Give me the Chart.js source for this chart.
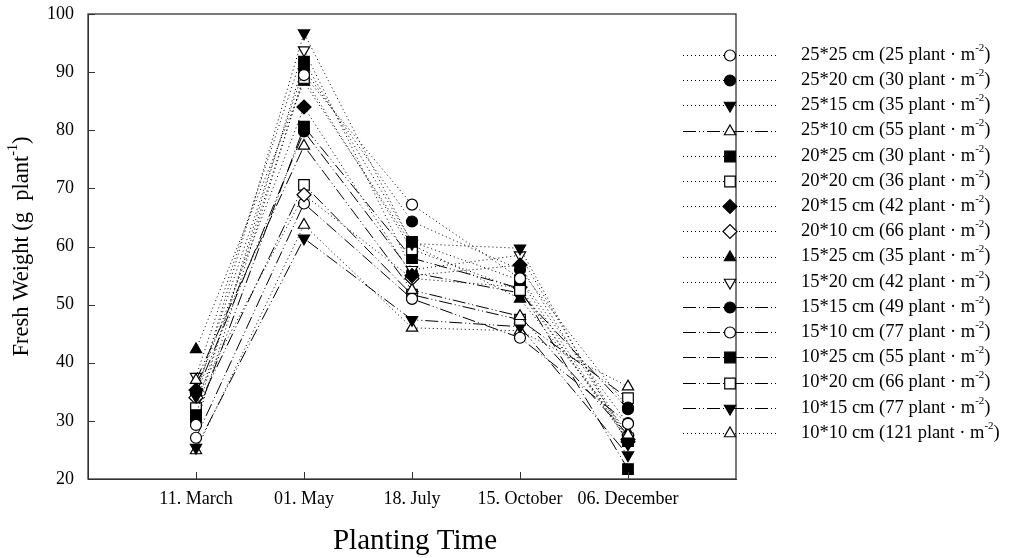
<!DOCTYPE html>
<html>
<head>
<meta charset="utf-8">
<script src="https://cdn.jsdelivr.net/npm/chart.js@4.4.1/dist/chart.umd.min.js"></script>
<style>
html,body{margin:0;padding:0;background:#fff;}
#wrap{width:1009px;height:558px;position:relative;}
</style>
</head>
<body>
<div id="wrap"><canvas id="c"></canvas></div>
<script>
// ---- data ----
const categories = ["11. March", "01. May", "18. July", "15. October", "06. December"];
const yTicks = [20, 30, 40, 50, 60, 70, 80, 90, 100];
const seriesNames = [
  "25*25 cm (25 plant \u00B7 m", "25*20 cm (30 plant \u00B7 m", "25*15 cm (35 plant \u00B7 m",
  "25*10 cm (55 plant \u00B7 m", "20*25 cm (30 plant \u00B7 m", "20*20 cm (36 plant \u00B7 m",
  "20*15 cm (42 plant \u00B7 m", "20*10 cm (66 plant \u00B7 m", "15*25 cm (35 plant \u00B7 m",
  "15*20 cm (42 plant \u00B7 m", "15*15 cm (49 plant \u00B7 m", "15*10 cm (77 plant \u00B7 m",
  "10*25 cm (55 plant \u00B7 m", "10*20 cm (66 plant \u00B7 m", "10*15 cm (77 plant \u00B7 m",
  "10*10 cm (121 plant \u00B7 m"
];
const s25x25 = [29.3, 89.5, 67.2, 54.5, 29.5];
const s25x20 = [35.0, 90.5, 64.3, 56.0, 32.3];
const s25x15 = [34.2, 96.7, 60.5, 59.7, 26.0];
const s25x10 = [37.0, 77.3, 52.5, 48.0, 27.6];
const s20x25 = [31.0, 91.8, 60.8, 54.2, 26.5];
const s20x20 = [32.2, 89.0, 59.5, 52.5, 27.0];
const s20x15 = [35.3, 84.0, 55.0, 56.8, 26.8];
const s20x10 = [34.0, 68.9, 54.5, 53.0, 26.4];
const s15x25 = [42.3, 88.3, 60.3, 51.0, 28.0];
const s15x20 = [37.6, 93.8, 56.0, 58.5, 27.0];
const s15x15 = [34.6, 79.8, 55.5, 52.0, 32.0];
const s15x10 = [27.1, 67.4, 51.0, 44.3, 29.6];
const s10x25 = [30.5, 80.6, 58.0, 52.8, 21.7];
const s10x20 = [31.8, 70.6, 51.7, 47.4, 33.9];
const s10x15 = [25.4, 61.4, 47.4, 46.2, 24.1];
const s10x10 = [24.9, 63.7, 46.0, 45.5, 35.9];
const allSeries = [s25x25, s25x20, s25x15, s25x10, s20x25, s20x20, s20x15, s20x10,
                   s15x25, s15x20, s15x15, s15x10, s10x25, s10x20, s10x15, s10x10];

// ---- styles ----
const DOT = [1, 3];
const DDD = [13, 3, 1, 3, 1, 3];
// [shape, filled, rotation, dash]
const styles = [
  ['circle', false, 0, DOT], ['circle', true, 0, DOT], ['triangle', true, 180, DOT], ['triangle', false, 0, DDD],
  ['rect', true, 0, DOT], ['rect', false, 0, DOT], ['rectRot', true, 0, DOT], ['rectRot', false, 0, DOT],
  ['triangle', true, 0, DOT], ['triangle', false, 180, DOT], ['circle', true, 0, DDD], ['circle', false, 0, DDD],
  ['rect', true, 0, DDD], ['rect', false, 0, DDD], ['triangle', true, 180, DDD], ['triangle', false, 0, DOT]
];
const radiusFor = {circle: 5.5, rect: 7.5, rectRot: 7, triangle: 6.5};

const labels = [''].concat(categories).concat(['']);
const datasets = allSeries.map((vals, i) => {
  const st = styles[i];
  return {
    label: seriesNames[i],
    data: [null].concat(vals).concat([null]),
    borderColor: '#000',
    borderWidth: 1,
    borderDash: st[3],
    backgroundColor: st[1] ? '#000' : '#fff',
    pointBackgroundColor: st[1] ? '#000' : '#fff',
    pointBorderColor: '#000',
    pointBorderWidth: 1.2,
    pointStyle: st[0],
    pointRotation: st[2],
    pointRadius: radiusFor[st[0]],
    pointHoverRadius: radiusFor[st[0]],
    fill: false,
    tension: 0,
    spanGaps: false
  };
});

const SERIF = "'Liberation Serif', 'Times New Roman', serif";

function drawSupText(ctx, x, y, main, sup, tail, size, align) {
  ctx.save();
  ctx.font = size + 'px ' + SERIF;
  const w1 = ctx.measureText(main).width;
  ctx.font = Math.round(size * 0.62) + 'px ' + SERIF;
  const w2 = ctx.measureText(sup).width;
  ctx.font = size + 'px ' + SERIF;
  const w3 = ctx.measureText(tail).width;
  const total = w1 + w2 + w3;
  let sx = align === 'center' ? x - total / 2 : x;
  ctx.textAlign = 'left';
  ctx.textBaseline = 'middle';
  ctx.fillStyle = '#000';
  ctx.fillText(main, sx, y);
  ctx.font = Math.round(size * 0.62) + 'px ' + SERIF;
  ctx.fillText(sup, sx + w1, y - size * 0.38);
  ctx.font = size + 'px ' + SERIF;
  ctx.fillText(tail, sx + w1 + w2, y);
  ctx.restore();
}

const decor = {
  id: 'decor',
  afterDraw(chart) {
    const ctx = chart.ctx;
    const a = chart.chartArea;
    const xs = chart.scales.x, ys = chart.scales.y;
    ctx.save();
    // frame
    ctx.strokeStyle = '#333';
    ctx.lineWidth = 1.3;
    ctx.setLineDash([]);
    ctx.strokeRect(a.left, a.top, a.right - a.left, a.bottom - a.top);
    // inward ticks
    ctx.lineWidth = 1;
    ctx.beginPath();
    yTicks.forEach(v => {
      const py = Math.round(ys.getPixelForValue(v)) + 0.5;
      ctx.moveTo(a.left, py); ctx.lineTo(a.left + 7, py);
    });
    categories.forEach((c, i) => {
      const px = Math.round(xs.getPixelForValue(i + 1)) + 0.5;
      ctx.moveTo(px, a.bottom); ctx.lineTo(px, a.bottom - 7);
    });
    ctx.stroke();
    ctx.restore();

    // x title
    ctx.save();
    ctx.font = '29px ' + SERIF;
    ctx.fillStyle = '#000';
    ctx.textAlign = 'center';
    ctx.textBaseline = 'middle';
    ctx.fillText('Planting Time', (a.left + a.right) / 2 + 3, 541);
    ctx.restore();

    // y title
    ctx.save();
    ctx.translate(22, (a.top + a.bottom) / 2);
    ctx.rotate(-Math.PI / 2);
    drawSupText(ctx, 0, 0, 'Fresh Weight (g  plant', '-1', ')', 22.5, 'center');
    ctx.restore();

    // legend
    const x0 = 683, x1 = 778, mx = 730, tx = 801;
    chart.data.datasets.forEach((ds, i) => {
      const y = 55 + i * 25.2;
      ctx.save();
      ctx.strokeStyle = '#000';
      ctx.lineWidth = 1;
      ctx.setLineDash(ds.borderDash);
      ctx.beginPath();
      ctx.moveTo(x0, Math.round(y) + 0.5);
      ctx.lineTo(x1, Math.round(y) + 0.5);
      ctx.stroke();
      ctx.setLineDash([]);
      ctx.fillStyle = ds.pointBackgroundColor;
      ctx.strokeStyle = '#000';
      ctx.lineWidth = 1.2;
      Chart.helpers.drawPoint(ctx, {
        pointStyle: ds.pointStyle,
        rotation: ds.pointRotation,
        radius: ds.pointRadius,
        borderWidth: 1.2
      }, mx, Math.round(y) + 0.5);
      ctx.restore();
      drawSupText(ctx, tx, y, ds.label, '-2', ')', 18.5, 'left');
    });
  }
};

new Chart(document.getElementById('c'), {
  type: 'line',
  data: { labels: labels, datasets: datasets },
  options: {
    responsive: true,
    maintainAspectRatio: false,
    animation: false,
    layout: { padding: { top: 14, right: 273, left: 0, bottom: 0 } },
    plugins: { legend: { display: false }, tooltip: { enabled: false } },
    scales: {
      x: {
        type: 'category',
        offset: false,
        grid: { display: true, drawOnChartArea: false, drawTicks: false },
        border: { display: true, color: '#333' },
        ticks: {
          autoSkip: false, maxRotation: 0, padding: 9,
          color: '#000', font: { family: SERIF, size: 18 }
        },
        afterFit(s) { s.height = 79; s.paddingLeft = 0; s.paddingRight = 0; }
      },
      y: {
        min: 20, max: 100,
        grid: { display: true, drawOnChartArea: false, drawTicks: false },
        border: { display: true, color: '#333' },
        ticks: {
          stepSize: 10, padding: 14,
          color: '#000', font: { family: SERIF, size: 18 }
        },
        afterFit(s) { s.width = 88; s.paddingTop = 0; s.paddingBottom = 0; }
      }
    }
  },
  plugins: [decor]
});
</script>
</body>
</html>
